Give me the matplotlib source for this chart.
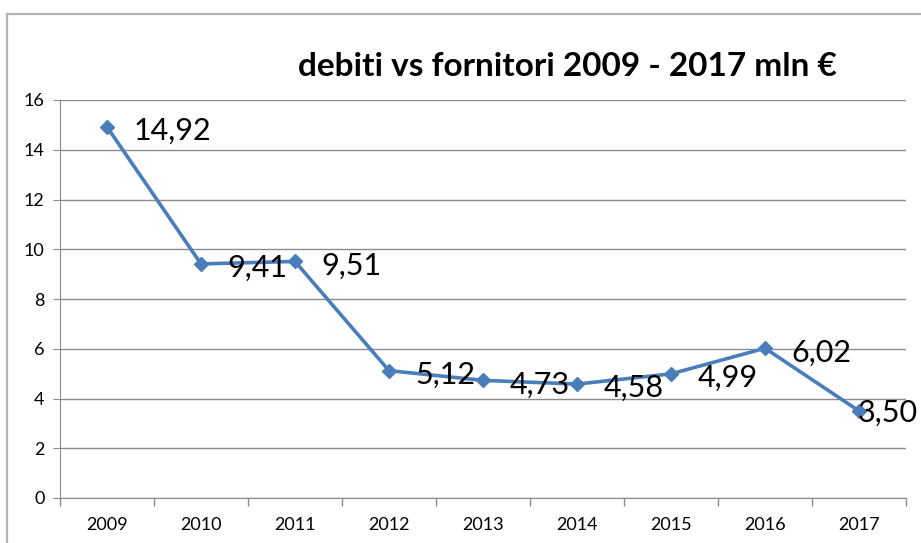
import matplotlib.pyplot as plt
from matplotlib.patches import Rectangle

years = ['2009', '2010', '2011', '2012', '2013', '2014', '2015', '2016', '2017']
debiti = [14.92, 9.41, 9.51, 5.12, 4.73, 4.58, 4.99, 6.02, 3.50]
labels = ['14,92', '9,41', '9,51', '5,12', '4,73', '4,58', '4,99', '6,02', '3,50']

plt.rcParams['font.family'] = ['Lato', 'DejaVu Sans']

fig = plt.figure(figsize=(9.21, 5.43), dpi=100)
ax = fig.add_axes([60 / 921, 45 / 543, 846 / 921, 398 / 543])

# grey frame of the chart area
fig.patches.append(Rectangle((7 / 921, -0.1), 1.1, (543 - 14) / 543 + 0.1,
                             transform=fig.transFigure, fill=False,
                             edgecolor='#b4b4b4', lw=1.6))

x = list(range(len(years)))
ax.plot(x, debiti, color='#4a7ebb', lw=2.6, marker='D', markersize=7.5,
        markeredgecolor='#4a7ebb', zorder=3)

for i, (v, t) in enumerate(zip(debiti, labels)):
    off = (19, -3) if i < len(years) - 1 else (-1, -1)
    ax.annotate(t, (i, v), xytext=off, textcoords='offset points',
                ha='left', va='center', fontsize=22, color='black',
                annotation_clip=False, zorder=4)

ax.set_xlim(-0.5, len(years) - 0.5)
ax.set_ylim(0, 16)
ax.set_yticks(range(0, 17, 2))
ax.yaxis.grid(True, color='#8c8c8c', lw=1)
ax.set_axisbelow(True)

ax.set_xticks([i - 0.5 for i in range(len(years) + 1)])
ax.set_xticklabels([])
ax.set_xticks(x, minor=True)
ax.set_xticklabels(years, minor=True)
ax.tick_params(axis='x', which='major', length=6, color='#8c8c8c', width=1)
ax.tick_params(axis='x', which='minor', length=0, labelsize=13, pad=14)
ax.tick_params(axis='y', length=5, color='#8c8c8c', labelsize=13, pad=6)

for s in ['top', 'right']:
    ax.spines[s].set_visible(False)
for s in ['left', 'bottom']:
    ax.spines[s].set_color('#8c8c8c')

fig.text(567 / 921, 1 - 67 / 543, 'debiti vs fornitori 2009 - 2017 mln €',
         ha='center', va='center', fontsize=24, fontweight='bold')

fig.savefig('out.png', dpi=100)
